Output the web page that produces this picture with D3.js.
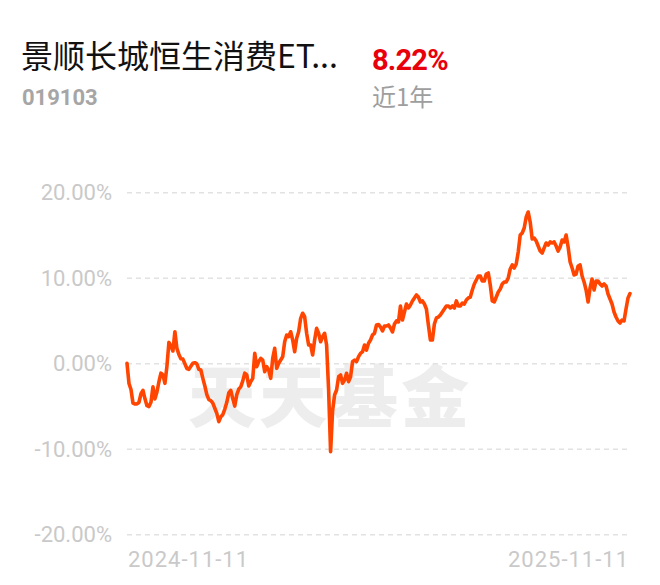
<!DOCTYPE html>
<html>
<head>
<meta charset="utf-8">
<script src="https://cdn.jsdelivr.net/npm/d3@7/dist/d3.min.js"></script>
<style>
  html, body { margin: 0; padding: 0; background: #ffffff; }
  svg { display: block; }
</style>
</head>
<body>
<div id="chart"></div>
<script>
// ---- data ----
const fundName = "景顺长城恒生消费ET...";
const fundCode = "019103";
const periodReturn = "8.22%";
const periodLabel = "近1年";
const watermark = "天天基金";
const xTickLabels = ["2024-11-11", "2025-11-11"];
const yTickValues = [20, 10, 0, -10, -20];
const yTickLabels = ["20.00%", "10.00%", "0.00%", "-10.00%", "-20.00%"];

// cumulative return (%) per trading day, 2024-11-11 .. 2025-11-11
const returnsA = [0.06, -2.3, -3.0, -4.6, -4.7, -4.7, -4.5, -3.5, -3.1, -4.1,
  -4.9, -5.0, -4.5, -2.7, -4.1, -3.3, -2.1, -1.1, -1.3, -2.28,
  -0.3, 2.5, 2.1, 1.5, 3.75, 1.8, 1.1, 0.6, 0.55, 0.0,
  -0.55, -0.65, -0.3, 0.06, 0.13, 0.0, -0.65, -0.73, -1.7, -2.6,
  -3.6, -4.2, -4.3, -4.6, -5.2, -5.8, -6.77, -6.2, -5.95, -5.3,
  -4.5, -3.4, -3.1, -4.1, -4.94, -3.6, -2.95, -2.7, -2.0, -1.1,
  -1.3, -2.6];
const returnsB = [-2.09, -1.7, 1.23, -0.34, 0.25, 0.64, 0.44, -0.92, -0.34, -0.73,
  -1.7, 0.64, 1.81, -0.53, 0.06, 0.45, 0.83, 2.58, 3.37, 3.17,
  3.75, 2.78, 1.42, 2.98, 3.75, 5.32, 5.91, 5.51, 3.57, 2.2,
  2.2, 1.03, 2.78, 4.15, 3.57, 2.58, 3.17, 3.57, 2.2, -3.0,
  -10.28, -5.5, -3.65, -3.06, -1.51, -1.31, -2.28, -1.89, -1.11, -2.09,
  -1.51, 0.25, 0.44, 0.25, 0.83, 1.23, 1.42, 2.2, 1.61, 2.4,
  2.78, 3.37, 3.57, 4.54, 4.6, 4.3];
const returnsC = [3.84, 4.42, 4.42, 4.54, 4.19, 3.72, 4.65, 5.01, 4.89, 6.76,
  5.12, 6.06, 6.99, 6.53, 6.88, 7.35, 7.7, 8.05, 7.81, 7.23,
  7.35, 6.99, 6.41, 4.54, 2.78, 2.78, 4.65, 5.36, 5.47, 5.71,
  6.06, 6.41, 6.76, 6.76, 6.53, 6.76, 6.53, 7.35, 6.76, 6.76,
  7.11, 6.99, 7.46, 7.7, 7.81, 8.63, 9.33, 9.8, 10.27, 10.27,
  9.68, 9.68, 10.5, 10.62, 9.22, 7.35, 7.23, 7.81, 8.4, 8.75,
  9.33, 9.57];
const returnsD = [9.57, 10.04, 11.09, 11.56, 11.2, 11.67, 13.08, 15.06, 15.3, 15.88,
  17.17, 17.75, 16.58, 14.6, 14.71, 14.36, 13.78, 13.19, 12.96, 13.55,
  14.13, 13.89, 14.25, 14.13, 14.25, 13.78, 13.19, 13.66, 14.48, 14.25,
  15.06, 13.66, 11.91, 11.2, 10.39, 10.5, 11.44, 11.56, 10.27, 9.57,
  8.63, 7.23, 8.87, 9.92, 8.63, 9.68, 9.68, 9.33, 9.1, 9.33,
  9.1, 8.16, 7.58, 6.99, 6.06, 5.47, 5.01, 4.77, 5.12, 5.01,
  6.41, 7.7, 8.22];
const returns = returnsA.concat(returnsB, returnsC, returnsD);

// ---- drawing ----
const W = 660, H = 585;
const svg = d3.select("#chart").append("svg").attr("width", W).attr("height", H);

const x = d3.scaleLinear().domain([0, returns.length - 1]).range([127, 630]);
const y = d3.scaleLinear().domain([-20, 20]).range([534.8, 192.8]);

// header
svg.append("text").attr("x", 21).attr("y", 68)
  .attr("font-family", "'Noto Sans CJK SC', 'Noto Sans', sans-serif")
  .attr("font-size", 32).attr("fill", "#111111").text(fundName);
svg.append("text").attr("x", 22).attr("y", 105)
  .attr("font-family", "Roboto, 'Noto Sans', sans-serif").attr("font-weight", 700)
  .attr("font-size", 22).attr("fill", "#a6a6a6").text(fundCode);
svg.append("text").attr("x", 372).attr("y", 70)
  .attr("font-family", "Roboto, 'Noto Sans', sans-serif").attr("font-weight", 700)
  .attr("font-size", 29).attr("fill", "#e8000b").attr("letter-spacing", -0.8).text(periodReturn);
svg.append("text").attr("x", 372).attr("y", 106)
  .attr("font-family", "'Noto Sans CJK SC', sans-serif")
  .attr("font-size", 24).attr("fill", "#9e9e9e").text(periodLabel);

// watermark
svg.append("text").attr("x", 330).attr("y", 392)
  .attr("text-anchor", "middle").attr("dominant-baseline", "central")
  .attr("font-family", "'Noto Sans CJK SC', sans-serif").attr("font-weight", 900)
  .attr("font-size", 68).attr("letter-spacing", 3)
  .attr("fill", "#ededed").text(watermark);

// gridlines
const grid = svg.append("g");
grid.selectAll("line").data(yTickValues).join("line")
  .attr("x1", 127).attr("x2", 630)
  .attr("y1", d => y(d)).attr("y2", d => y(d))
  .attr("stroke", "#e2e2e2").attr("stroke-width", 1.5)
  .attr("stroke-dasharray", "5,4");

// y axis labels
const yAxis = d3.axisLeft(y).tickValues(yTickValues)
  .tickFormat((d, i) => yTickLabels[i]).tickSize(0).tickPadding(0);
const gy = svg.append("g").attr("transform", "translate(112,0)").call(yAxis);
gy.select(".domain").remove();
gy.selectAll("text").attr("font-family", "Roboto, 'Noto Sans', sans-serif")
  .attr("font-size", 22).attr("fill", "#c9c9c9");

// x labels
svg.append("text").attr("x", 128).attr("y", 567)
  .attr("font-family", "Roboto, 'Noto Sans', sans-serif").attr("font-size", 22)
  .attr("letter-spacing", 1).attr("fill", "#c9c9c9").text(xTickLabels[0]);
svg.append("text").attr("x", 629).attr("y", 567).attr("text-anchor", "end")
  .attr("font-family", "Roboto, 'Noto Sans', sans-serif").attr("font-size", 22)
  .attr("letter-spacing", 1).attr("fill", "#c9c9c9").text(xTickLabels[1]);

// line
const line = d3.line().x((d, i) => x(i)).y(d => y(d));
svg.append("path").datum(returns)
  .attr("d", line).attr("fill", "none")
  .attr("stroke", "#ff4500").attr("stroke-width", 3.6)
  .attr("stroke-linejoin", "round").attr("stroke-linecap", "round");
</script>
</body>
</html>
